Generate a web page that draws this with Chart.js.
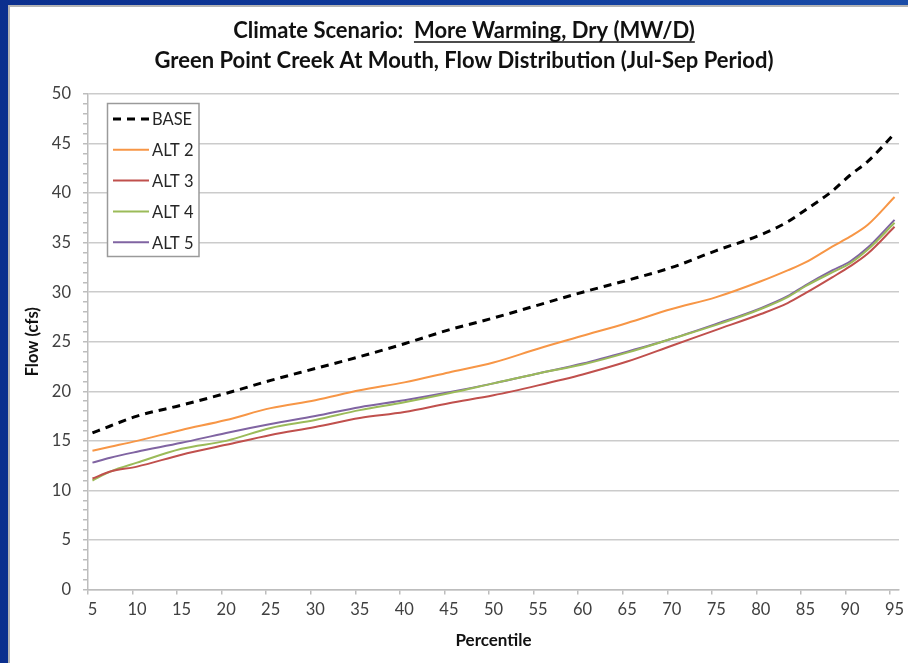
<!DOCTYPE html>
<html>
<head>
<meta charset="utf-8">
<title>Green Point Creek At Mouth – Flow Distribution</title>
<script src="https://cdn.jsdelivr.net/npm/chart.js@4/dist/chart.umd.min.js"></script>
<style>
  html, body { margin: 0; padding: 0; }
  body {
    width: 908px; height: 663px; overflow: hidden; position: relative;
    background: linear-gradient(90deg, #0b2f8e 0%, #0f3a9a 50%, #1a4ca8 100%);
  }
  #panel {
    position: absolute; left: 8px; top: 5px; width: 900px; height: 658px;
    background: #ffffff; border-left: 2px solid #b4b4b4; border-top: 2px solid #b4b4b4;
    box-sizing: border-box;
  }
  #chart { position: absolute; left: 0; top: 0; }
</style>
</head>
<body>
<div id="panel"></div>
<canvas id="chart" width="908" height="663"></canvas>
<script>
// Percentile positions at which flows were sampled
const percentiles = [5, 7, 10, 15, 20, 25, 30, 35, 40, 45, 50, 55, 60, 65, 70, 75, 80, 83, 85, 88, 90, 92, 95];

// Flow (cfs) for each alternative at those percentiles
const baseFlow = [15.8, 16.5, 17.5, 18.6, 19.8, 21.1, 22.3, 23.5, 24.8, 26.2, 27.4, 28.7, 30.0, 31.2, 32.5, 34.2, 35.8, 37.1, 38.3, 40.2, 41.8, 43.2, 46.0];
const alt2Flow = [14.0, 14.4, 15.0, 16.1, 17.1, 18.3, 19.1, 20.1, 20.9, 21.9, 22.9, 24.3, 25.6, 26.9, 28.3, 29.5, 31.1, 32.2, 33.0, 34.6, 35.6, 36.8, 39.6];
const alt3Flow = [11.2, 11.9, 12.4, 13.6, 14.6, 15.6, 16.4, 17.3, 17.9, 18.8, 19.6, 20.6, 21.7, 23.0, 24.6, 26.2, 27.8, 28.9, 29.9, 31.5, 32.6, 33.9, 36.6];
const alt4Flow = [11.0, 11.9, 12.8, 14.2, 15.0, 16.3, 17.1, 18.1, 18.9, 19.8, 20.8, 21.8, 22.7, 23.9, 25.3, 26.7, 28.3, 29.5, 30.6, 32.0, 32.9, 34.3, 37.0];
const alt5Flow = [12.8, 13.3, 13.9, 14.8, 15.8, 16.7, 17.5, 18.4, 19.1, 19.9, 20.8, 21.8, 22.8, 24.0, 25.3, 26.8, 28.4, 29.6, 30.7, 32.2, 33.1, 34.5, 37.3];

// Axis labels
const percentileTicks = [5, 10, 15, 20, 25, 30, 35, 40, 45, 50, 55, 60, 65, 70, 75, 80, 85, 90, 95];
const flowTicks = [0, 5, 10, 15, 20, 25, 30, 35, 40, 45, 50];

const seriesNames = ['BASE', 'ALT 2', 'ALT 3', 'ALT 4', 'ALT 5'];

const titlePrefix = 'Climate Scenario:  ';
const titleScenario = 'More Warming, Dry (MW/D)';
const titleSecond = 'Green Point Creek At Mouth, Flow Distribution (Jul-Sep Period)';

const FONT = 'Lato, "Open Sans", "DejaVu Sans", sans-serif';
const toPoints = arr => percentiles.map((p, i) => ({ x: p, y: arr[i] }));

function line(label, values, color, width, dash) {
  return {
    label,
    data: toPoints(values),
    borderColor: color,
    backgroundColor: color,
    borderWidth: width,
    borderDash: dash || [],
    pointRadius: 0,
    fill: false,
    cubicInterpolationMode: 'monotone'
  };
}

// Two-line heading, the scenario name underlined
const headingPlugin = {
  id: 'heading',
  afterDraw(chart) {
    const ctx = chart.ctx;
    const cx = 464;
    ctx.save();
    ctx.fillStyle = '#111111';
    ctx.font = 'bold 22px ' + FONT;
    ctx.textBaseline = 'middle';
    ctx.textAlign = 'left';
    const w1 = ctx.measureText(titlePrefix).width;
    const w2 = ctx.measureText(titleScenario).width;
    const x0 = cx - (w1 + w2) / 2;
    ctx.fillText(titlePrefix, x0, 31);
    ctx.fillText(titleScenario, x0 + w1, 31);
    ctx.strokeStyle = '#111111';
    ctx.lineWidth = 1.5;
    ctx.beginPath();
    ctx.moveTo(x0 + w1, 42);
    ctx.lineTo(x0 + w1 + w2, 42);
    ctx.stroke();
    ctx.textAlign = 'center';
    ctx.fillText(titleSecond, cx, 61);
    ctx.restore();
  }
};

// Boxed legend inside the plot area, top-left
const insetLegendPlugin = {
  id: 'insetLegend',
  afterDraw(chart) {
    const ctx = chart.ctx;
    const bx = 107.5, by = 103.5, bw = 91.5, bh = 153;
    ctx.save();
    ctx.fillStyle = '#ffffff';
    ctx.fillRect(bx, by, bw, bh);
    ctx.strokeStyle = '#9a9a9a';
    ctx.lineWidth = 1.5;
    ctx.strokeRect(bx, by, bw, bh);
    ctx.font = '16.5px ' + FONT;
    ctx.textBaseline = 'middle';
    ctx.textAlign = 'left';
    chart.data.datasets.forEach((ds, i) => {
      const y = 119 + i * 30.8;
      ctx.strokeStyle = ds.borderColor;
      ctx.lineWidth = ds.borderWidth;
      ctx.setLineDash(ds.borderDash);
      ctx.beginPath();
      ctx.moveTo(113, y);
      ctx.lineTo(149, y);
      ctx.stroke();
      ctx.setLineDash([]);
      ctx.fillStyle = '#262626';
      ctx.fillText(ds.label, 152, y + 1);
    });
    ctx.restore();
  }
};

new Chart(document.getElementById('chart'), {
  type: 'line',
  data: {
    datasets: [
      line(seriesNames[0], baseFlow, '#000000', 3, [8, 6]),
      line(seriesNames[1], alt2Flow, '#f79646', 2),
      line(seriesNames[2], alt3Flow, '#c0504d', 2),
      line(seriesNames[3], alt4Flow, '#9bbb59', 2),
      line(seriesNames[4], alt5Flow, '#8064a2', 2)
    ]
  },
  options: {
    responsive: false,
    animation: false,
    devicePixelRatio: 1,
    layout: { padding: { top: 94, right: 9, left: 0, bottom: 0 } },
    plugins: {
      legend: { display: false },
      title: { display: false },
      tooltip: { enabled: false }
    },
    scales: {
      x: {
        type: 'linear',
        min: 4.5,
        max: 95.5,
        afterFit(scale) { scale.height = 73.5; },
        afterBuildTicks(scale) {
          scale.ticks = percentileTicks.map(v => ({ value: v - 0.5 }));
        },
        ticks: {
          autoSkip: false,
          maxRotation: 0,
          labelOffset: 4.45,
          padding: 5,
          color: '#404040',
          font: { family: FONT, size: 16.5 },
          callback: v => String(v + 0.5)
        },
        grid: {
          drawOnChartArea: false,
          drawTicks: true,
          tickLength: 5,
          tickColor: '#bdbdbd',
          lineWidth: 1.5
        },
        border: { color: '#bdbdbd', width: 1.5 },
        title: {
          display: true,
          text: 'Percentile',
          color: '#111111',
          font: { family: FONT, size: 17, weight: 'bold' },
          padding: { top: 0, bottom: 12 }
        }
      },
      y: {
        min: 0,
        max: 50,
        afterFit(scale) { scale.width = 88; },
        ticks: {
          stepSize: 1,
          autoSkip: false,
          padding: 12,
          color: '#404040',
          font: { family: FONT, size: 16.5 },
          callback: v => (flowTicks.includes(v) ? String(v) : '')
        },
        grid: {
          color: ctx => (ctx.tick && flowTicks.includes(ctx.tick.value) ? '#cbcbcb' : 'rgba(0,0,0,0)'),
          lineWidth: 1.5,
          tickLength: 5,
          tickColor: '#bdbdbd'
        },
        border: { color: '#bdbdbd', width: 1.5 },
        title: {
          display: true,
          text: 'Flow (cfs)',
          color: '#111111',
          font: { family: FONT, size: 16.5, weight: 'bold' },
          padding: { top: 23, bottom: 0 }
        }
      }
    }
  },
  plugins: [headingPlugin, insetLegendPlugin]
});
</script>
</body>
</html>
